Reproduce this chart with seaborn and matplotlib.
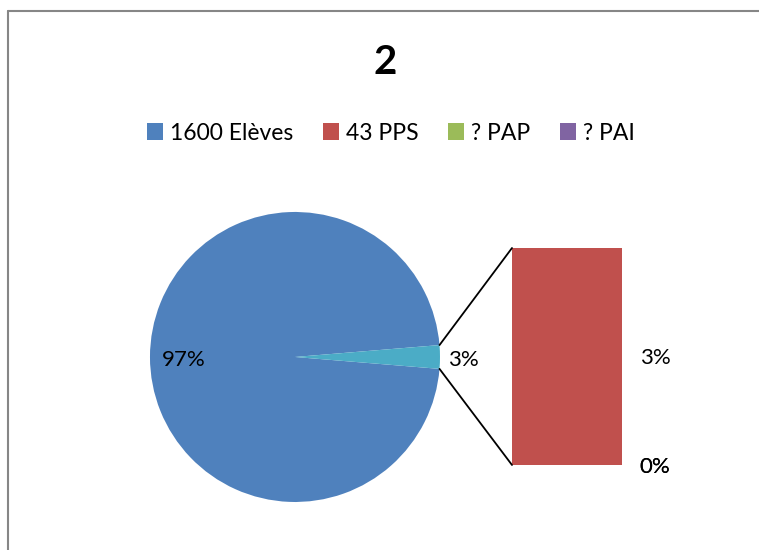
import matplotlib
matplotlib.use("Agg")
import matplotlib.pyplot as plt
import seaborn as sns
import numpy as np
from matplotlib.patches import Patch, ConnectionPatch
from matplotlib.lines import Line2D

sns.set_style("white")
plt.rcParams['font.family'] = ['Lato', 'DejaVu Sans']
plt.rcParams['text.color'] = 'black'

# data
title = "2"
pie_labels = ["1600 Elèves", "43 PPS", "? PAP", "? PAI"]
pie_counts = [1600, 43, 0, 0]
series_colors = ["#4F81BD", "#C0504D", "#9BBB59", "#8064A2"]
other_color = "#4BACC6"

total = sum(pie_counts)
main_value = pie_counts[0]
other_values = pie_counts[1:]
other_total = sum(other_values)

fig = plt.figure(figsize=(7.59, 5.5), dpi=100)

# pie: main slice + "other" slice, the small one centered on the right
ax_pie = fig.add_axes([0.1976, 0.0873, 0.3821, 0.5273])
start = 180 * other_total / total
wedges, _ = ax_pie.pie([main_value, other_total], colors=[series_colors[0], other_color],
                       startangle=start, radius=1, counterclock=True,
                       wedgeprops=dict(linewidth=0))
ax_pie.set_xlim(-1, 1)
ax_pie.set_ylim(-1, 1)
ax_pie.set_aspect('equal')
ax_pie.axis('off')

pcts = [main_value / total, other_total / total]
for w, p, dist in zip(wedges, pcts, [0.77, 1.16]):
    ang = np.deg2rad((w.theta1 + w.theta2) / 2)
    ax_pie.text(dist * np.cos(ang), dist * np.sin(ang) - 0.02, f"{p:.0%}", ha='center',
                va='center', fontsize=16, color='black')

# stacked bar of the "other" part
ax_bar = fig.add_axes([512 / 759, 1 - 465 / 550, 110 / 759, 217 / 550])
order = [3, 2, 1]  # zero items at the bottom, PPS on top
bottom = 0
for i in order:
    v = pie_counts[i]
    ax_bar.bar(0, v, width=1, bottom=bottom, color=series_colors[i], linewidth=0)
    ax_bar.text(0.8, bottom + v / 2 - 0.3, f"{v / total:.0%}", ha='center', va='center',
                fontsize=16, color='black', clip_on=False)
    bottom += v
ax_bar.set_xlim(-0.5, 0.5)
ax_bar.set_ylim(0, other_total)
ax_bar.axis('off')

# connector lines
th1 = np.deg2rad(wedges[1].theta1)
th2 = np.deg2rad(wedges[1].theta2)
for th, yb in [(th2, other_total), (th1, 0)]:
    con = ConnectionPatch(xyA=(np.cos(th), np.sin(th)), coordsA=ax_pie.transData,
                          xyB=(-0.5, yb), coordsB=ax_bar.transData,
                          color='black', linewidth=1.3)
    fig.add_artist(con)

# title and legend
fig.text(385 / 759, 1 - 63 / 550, title, ha='center', va='center',
         fontsize=29, fontweight='bold', color='black')
handles = [Patch(facecolor=c, edgecolor='none') for c in series_colors]
fig.legend(handles, pie_labels, loc='center', bbox_to_anchor=(391 / 759, 1 - 133 / 550),
           ncol=4, frameon=False, fontsize=16.5, handlelength=0.7, handleheight=0.7,
           handletextpad=0.3, columnspacing=1.3, labelcolor='black')

# chart area border (top and left edges visible)
fig.add_artist(Line2D([8 / 759, 1], [1 - 11 / 550, 1 - 11 / 550], color='#868686', linewidth=1.5))
fig.add_artist(Line2D([8 / 759, 8 / 759], [0, 1 - 11 / 550], color='#868686', linewidth=1.5))

fig.savefig("out.png", dpi=100, facecolor='white')
